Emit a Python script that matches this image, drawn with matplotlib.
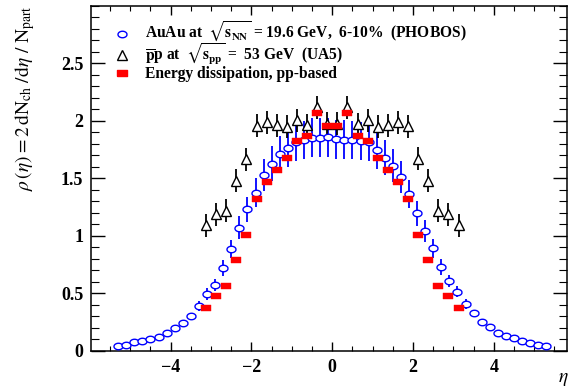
import numpy as np
import matplotlib
matplotlib.use("Agg")
import matplotlib.pyplot as plt
from matplotlib.ticker import MultipleLocator
from matplotlib.lines import Line2D

plt.rcParams['font.family'] = ['Liberation Serif', 'DejaVu Serif']
plt.rcParams['mathtext.fontset'] = 'stix'

# ---------------- data ----------------
eta_phobos = [-5.3, -5.1, -4.9, -4.7, -4.5, -4.3, -4.1, -3.9, -3.7, -3.5, -3.3, -3.1,
              -2.9, -2.7, -2.5, -2.3, -2.1, -1.9, -1.7, -1.5, -1.3, -1.1, -0.9, -0.7,
              -0.5, -0.3, -0.1, 0.1, 0.3, 0.5, 0.7, 0.9, 1.1, 1.3, 1.5, 1.7, 1.9, 2.1,
              2.3, 2.5, 2.7, 2.9, 3.1, 3.3, 3.5, 3.7, 3.9, 4.1, 4.3, 4.5, 4.7, 4.9,
              5.1, 5.3]
rho_phobos = [0.041, 0.053, 0.076, 0.088, 0.100, 0.122, 0.157, 0.197, 0.244, 0.300,
              0.389, 0.495, 0.572, 0.723, 0.885, 1.070, 1.230, 1.374, 1.530, 1.628,
              1.710, 1.763, 1.815, 1.832, 1.852, 1.855, 1.857, 1.840, 1.835, 1.830,
              1.828, 1.812, 1.745, 1.680, 1.610, 1.515, 1.363, 1.197, 1.042, 0.890,
              0.730, 0.605, 0.513, 0.406, 0.325, 0.247, 0.203, 0.157, 0.128, 0.108,
              0.082, 0.070, 0.052, 0.038]
err_phobos = [0.02, 0.02, 0.02, 0.02, 0.02, 0.02, 0.02, 0.025, 0.025, 0.03,
              0.04, 0.05, 0.055, 0.07, 0.08, 0.10, 0.11, 0.125, 0.14, 0.15,
              0.155, 0.16, 0.165, 0.165, 0.17, 0.17, 0.17, 0.17, 0.17, 0.165,
              0.165, 0.165, 0.16, 0.155, 0.145, 0.14, 0.125, 0.11, 0.095, 0.08,
              0.07, 0.055, 0.05, 0.04, 0.03, 0.025, 0.025, 0.02, 0.02, 0.02,
              0.02, 0.02, 0.02, 0.02]

eta_ua5 = [-3.125, -2.875, -2.625, -2.375, -2.125, -1.875, -1.625, -1.375, -1.125,
           -0.875, -0.625, -0.375, -0.125, 0.125, 0.375, 0.625, 0.875, 1.125, 1.375,
           1.625, 1.875, 2.125, 2.375, 2.625, 2.875, 3.125]
rho_ua5 = [1.093, 1.186, 1.217, 1.478, 1.667, 1.957, 1.986, 1.960, 1.950, 2.006, 1.963,
           2.117, 1.977, 1.977, 2.117, 1.970, 2.006, 1.950, 1.960, 1.990, 1.954, 1.670,
           1.478, 1.217, 1.186, 1.093]
err_ua5 = [0.10, 0.10, 0.10, 0.10, 0.10, 0.10, 0.10, 0.10, 0.10, 0.10, 0.10, 0.10, 0.10,
           0.10, 0.10, 0.10, 0.10, 0.10, 0.10, 0.10, 0.10, 0.10, 0.10, 0.10, 0.10, 0.10]

eta_model = eta_ua5
rho_model = [0.369, 0.472, 0.565, 0.786, 1.003, 1.316, 1.470, 1.571, 1.679, 1.826,
             1.867, 2.067, 1.957, 1.957, 2.067, 1.867, 1.826, 1.679, 1.571, 1.470,
             1.316, 1.003, 0.786, 0.565, 0.472, 0.369]

xticks = [-4, -2, 0, 2, 4]
yticks = [0, 0.5, 1, 1.5, 2, 2.5]
ytick_labels = ['0', '0.5', '1', '1.5', '2', '2.5']

labels = [r'AuAu at $\;\sqrt{\mathbf{s}_{\mathbf{NN}}}$ = 19.6 GeV,  6-10%  (PHOBOS)',
          r'$\overline{\mathbf{p}}$p at $\;\sqrt{\mathbf{s}_{\mathbf{pp}}}$ =  53 GeV  (UA5)',
          'Energy dissipation, pp-based']

# ---------------- marker shapes ----------------
t = np.linspace(0, 2 * np.pi, 40)
ellipse = list(zip(np.cos(t), 0.72 * np.sin(t)))
rect = [(-1, -0.68), (1, -0.68), (1, 0.68), (-1, 0.68), (-1, -0.68)]

BLUE = '#0000ff'
RED = '#ff0000'
W, H = 570, 389

fig = plt.figure(figsize=(5.7, 3.89), dpi=100)
ax = fig.add_axes([0.1605, 0.0985, 0.8342, 0.8861])

ax.errorbar(eta_phobos, rho_phobos, yerr=err_phobos, fmt='none', ecolor=BLUE,
            elinewidth=1.3, capsize=0, zorder=2)
ax.plot(eta_phobos, rho_phobos, linestyle='none', marker=ellipse, markersize=6.5,
        markerfacecolor='white', markeredgecolor=BLUE, markeredgewidth=1.0, zorder=3)

ax.errorbar(eta_ua5, rho_ua5, yerr=err_ua5, fmt='none', ecolor='black',
            elinewidth=1.3, capsize=0, zorder=2)
ax.plot(eta_ua5, rho_ua5, linestyle='none', marker='^', markersize=7,
        markerfacecolor='white', markeredgecolor='black', markeredgewidth=1.0, zorder=3)

ax.plot(eta_model, rho_model, linestyle='none', marker=rect, markersize=7,
        markerfacecolor=RED, markeredgecolor=RED, markeredgewidth=0.3, zorder=4)

ax.set_xlim(-5.96, 5.81)
ax.set_ylim(0, 3.0)

ax.set_xticks(xticks)
ax.xaxis.set_minor_locator(MultipleLocator(0.5))
ax.set_yticks(yticks)
ax.set_yticklabels(ytick_labels)
ax.yaxis.set_minor_locator(MultipleLocator(0.1))

ax.tick_params(axis='x', which='major', direction='in', length=6.5, width=1.0,
               top=True, bottom=True, pad=6, labelsize=13)
ax.tick_params(axis='x', which='minor', direction='in', length=3.5, width=0.8,
               top=True, bottom=True)
ax.tick_params(axis='y', which='major', direction='in', length=10, width=1.0,
               left=True, right=True, pad=6, labelsize=13)
ax.tick_params(axis='y', which='minor', direction='in', length=5.5, width=0.8,
               left=True, right=True)
for lab in ax.get_xticklabels() + ax.get_yticklabels():
    lab.set_fontweight('bold')
for sp in ax.spines.values():
    sp.set_linewidth(1.1)

# ---------------- legend (placed entry by entry) ----------------
leg_styles = [
    dict(marker=ellipse, markersize=6.5, markerfacecolor='white',
         markeredgecolor=BLUE, markeredgewidth=1.0),
    dict(marker='^', markersize=6.5, markerfacecolor='white',
         markeredgecolor='black', markeredgewidth=1.0),
    dict(marker=rect, markersize=7, markerfacecolor=RED, markeredgecolor=RED),
]
row_y = [33.5, 55, 73]
for lab, st, yc in zip(labels, leg_styles, row_y):
    fig.add_artist(Line2D([122 / W], [1 - yc / H], linestyle='none',
                          transform=fig.transFigure, **st))
    fig.text(145 / W, 1 - (yc + 4.5) / H, lab, ha='left', va='baseline',
             fontsize=11.2, fontweight='bold')

fig.text(25 / W, 1 - 5 / H,
         r'$\rho\,(\eta) = 2\,\mathrm{dN}_{\mathrm{ch}}\ /\mathrm{d}\eta\ /\ \mathrm{N}_{\mathrm{part}}$',
         rotation=90, ha='center', va='top', fontsize=14)
fig.text(558 / W, 1 - 388 / H, r'$\eta$', ha='left', va='bottom',
         fontsize=14, fontweight='bold')

fig.savefig('out.png', dpi=100)
